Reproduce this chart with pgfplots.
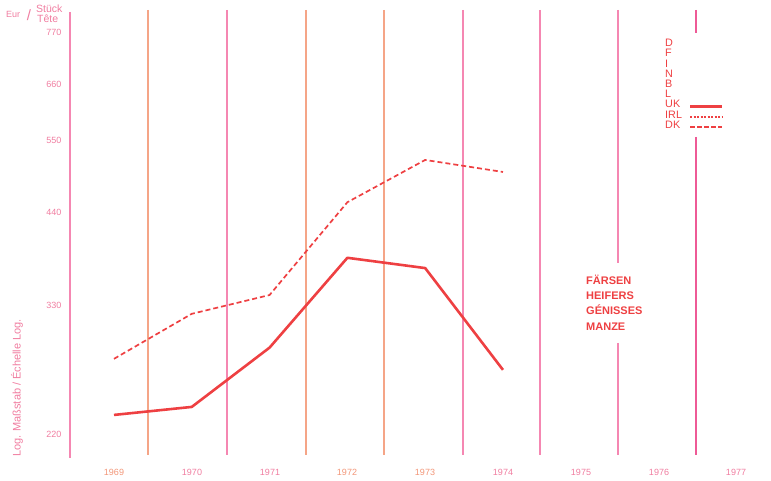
\documentclass[border=0pt]{standalone}
\usepackage{pgfplots}
\pgfplotsset{compat=1.18}
\usepackage{fontspec}
\setmainfont{Liberation Sans}
\definecolor{lred}{RGB}{238,64,66}
\definecolor{vpink}{RGB}{245,135,178}
\definecolor{vorange}{RGB}{245,165,135}
\definecolor{vmag}{RGB}{238,90,150}
\definecolor{tpink}{RGB}{240,125,160}
\definecolor{torange}{RGB}{242,150,120}
\begin{document}
\begin{tikzpicture}
\begin{axis}[name=ax,
  scale only axis, width=771pt, height=480pt,
  xmin=1967.535, xmax=1977.445,
  ymode=log, ymin=190.7, ymax=850.7,
  hide axis, clip=false]
\path (rel axis cs:0,0) rectangle (rel axis cs:1,1);
% vertical separators
\draw[vpink, line width=1.2pt] (axis cs:1968.434,819.5) -- (axis cs:1968.434,204.2);
\draw[vorange, line width=1.2pt] (axis cs:1969.437,824.6) -- (axis cs:1969.437,206.1);
\draw[vpink, line width=1.2pt] (axis cs:1970.452,824.6) -- (axis cs:1970.452,206.1);
\draw[vorange, line width=1.2pt] (axis cs:1971.468,824.6) -- (axis cs:1971.468,206.1);
\draw[vorange, line width=1.2pt] (axis cs:1972.470,824.6) -- (axis cs:1972.470,206.1);
\draw[vpink, line width=1.2pt] (axis cs:1973.486,824.6) -- (axis cs:1973.486,206.1);
\draw[vpink, line width=1.2pt] (axis cs:1974.476,824.6) -- (axis cs:1974.476,206.1);
\draw[vpink, line width=1.2pt] (axis cs:1975.478,824.6) -- (axis cs:1975.478,374.9);
\draw[vpink, line width=1.2pt] (axis cs:1975.478,292.2) -- (axis cs:1975.478,206.1);
\draw[vmag, line width=1.2pt] (axis cs:1976.481,824.6) -- (axis cs:1976.481,767.6);
\draw[vmag, line width=1.2pt] (axis cs:1976.481,555.2) -- (axis cs:1976.481,206.1);
% UK
\addplot[lred, line width=2.6pt, line join=round] coordinates {
 (1969,233.5) (1970,239.4) (1971,288) (1972,381) (1973,369) (1974,268.7)};
% DK
\addplot[lred, line width=1.7pt, dash pattern=on 5pt off 3pt] coordinates {
 (1969,278.1) (1970,320) (1971,339.3) (1972,453) (1973,516.8) (1974,497.8)};
\end{axis}
\begin{scope}[shift={(ax.north west)}, x=1pt, y=-1pt]
\begin{scope}[font=\fontsize{9}{9}\selectfont]
\node[anchor=east, tpink] at (65,32) {770};
\node[anchor=east, tpink] at (65,84) {660};
\node[anchor=east, tpink] at (65,140) {550};
\node[anchor=east, tpink] at (65,212) {440};
\node[anchor=east, tpink] at (65,305) {330};
\node[anchor=east, tpink] at (65,434) {220};
\node[torange] at (114,472) {1969};
\node[tpink] at (192,472) {1970};
\node[tpink] at (270,472) {1971};
\node[torange] at (347,472) {1972};
\node[torange] at (425,472) {1973};
\node[tpink] at (503,472) {1974};
\node[tpink] at (581,472) {1975};
\node[tpink] at (659,472) {1976};
\node[tpink] at (736,472) {1977};
\end{scope}
% unit
\node[anchor=base west, tpink, font=\fontsize{9}{9}\selectfont, inner sep=0pt] at (6,18) {Eur};
\node[anchor=center, tpink, font=\fontsize{15}{15}\selectfont, inner sep=0pt] at (29,15) {/};
\node[anchor=base west, tpink, font=\fontsize{10.5}{11}\selectfont, inner sep=0pt] at (36,13) {Stück};
\node[anchor=base west, tpink, font=\fontsize{10.5}{11}\selectfont, inner sep=0pt] at (37,22.5) {Tête};
% y label
\node[rotate=90, tpink, font=\fontsize{11}{11}\selectfont] at (17,388) {Log. Maßstab / Échelle Log.};
% block text
\begin{scope}[font=\fontsize{11}{12}\selectfont\bfseries, lred]
\node[anchor=base west, inner sep=0pt] at (586,284.3) {FÄRSEN};
\node[anchor=base west, inner sep=0pt] at (586,299.5) {HEIFERS};
\node[anchor=base west, inner sep=0pt] at (586,314.8) {GÉNISSES};
\node[anchor=base west, inner sep=0pt] at (586,330.2) {MANZE};
\end{scope}
% legend
\begin{scope}[font=\fontsize{10.8}{10}\selectfont, lred]
\node[anchor=base west, inner sep=0pt] at (665,46.7) {D};
\node[anchor=base west, inner sep=0pt] at (665,56.9) {F};
\node[anchor=base west, inner sep=0pt] at (665,67.1) {I};
\node[anchor=base west, inner sep=0pt] at (665,77.3) {N};
\node[anchor=base west, inner sep=0pt] at (665,87.5) {B};
\node[anchor=base west, inner sep=0pt] at (665,97.7) {L};
\node[anchor=base west, inner sep=0pt] at (665,108) {UK};
\node[anchor=base west, inner sep=0pt] at (665,118.2) {IRL};
\node[anchor=base west, inner sep=0pt] at (665,128.4) {DK};
\end{scope}
\draw[lred, line width=2.4pt] (690,106.5) -- (722,106.5);
\draw[lred, line width=2pt, dash pattern=on 2pt off 1.5pt] (690,117.3) -- (722,117.3);
\draw[lred, line width=2pt, dash pattern=on 4.5pt off 2.5pt] (690,127.5) -- (722,127.5);
\end{scope}
\end{tikzpicture}
\end{document}
